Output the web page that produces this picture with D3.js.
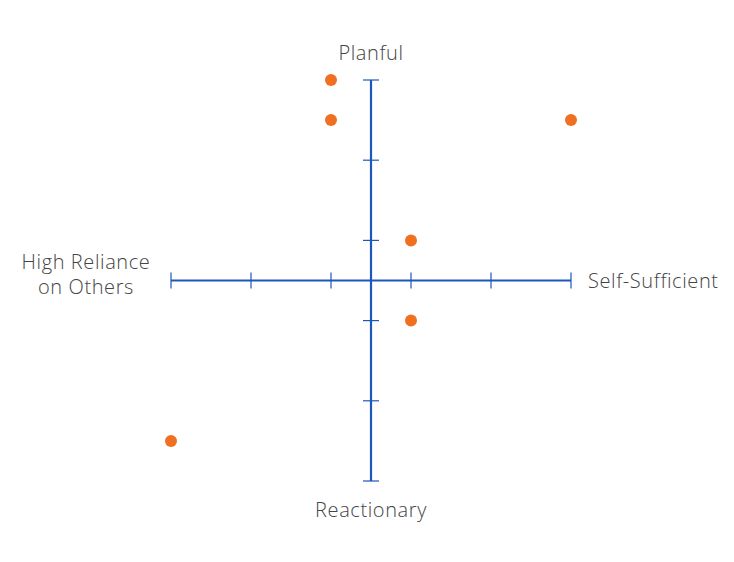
<!DOCTYPE html>
<html>
<head>
<meta charset="utf-8">
<script src="https://cdn.jsdelivr.net/npm/d3@7"></script>
<style>
  body { margin: 0; background: #fff; }
  text { font-family: "Open Sans", Lato, sans-serif; font-weight: 300; fill: #444; letter-spacing: 0.6px; }
</style>
</head>
<body>
<div id="chart"></div>
<script>
// quadrant values
const xValues = [-1, -1, 5, 1, 1, -5];
const yValues = [5, 4, 4, 1, -1, -4];
const tickValues = [-5, -3, -1, 1, 3, 5];

const width = 734, height = 562;

const svg = d3.select("#chart").append("svg")
    .attr("width", width)
    .attr("height", height);

const x = d3.scaleLinear().domain([-5, 5]).range([171, 571]);
const y = d3.scaleLinear().domain([-5, 5]).range([481, 80]);

const axisColor = "#1c58bb";

// horizontal axis
svg.append("line")
    .attr("x1", x(-5)).attr("x2", x(5))
    .attr("y1", y(0)).attr("y2", y(0))
    .attr("stroke", axisColor).attr("stroke-width", 2.2);

svg.selectAll(".xtick").data(tickValues).enter().append("line")
    .attr("class", "xtick")
    .attr("x1", d => x(d)).attr("x2", d => x(d))
    .attr("y1", y(0) - 8).attr("y2", y(0) + 8)
    .attr("stroke", axisColor).attr("stroke-width", 1.2);

// vertical axis
svg.append("line")
    .attr("x1", x(0)).attr("x2", x(0))
    .attr("y1", y(5)).attr("y2", y(-5))
    .attr("stroke", axisColor).attr("stroke-width", 2.2);

svg.selectAll(".ytick").data(tickValues).enter().append("line")
    .attr("class", "ytick")
    .attr("x1", x(0) - 8).attr("x2", x(0) + 8)
    .attr("y1", d => y(d)).attr("y2", d => y(d))
    .attr("stroke", axisColor).attr("stroke-width", 1.2);

// points
svg.selectAll(".dot").data(xValues).enter().append("circle")
    .attr("class", "dot")
    .attr("cx", d => x(d))
    .attr("cy", (d, i) => y(yValues[i]))
    .attr("r", 6)
    .attr("fill", "#f07022");

// quadrant labels
svg.append("text").attr("x", 371).attr("y", 60)
    .attr("text-anchor", "middle").attr("font-size", 20).text("Planful");
svg.append("text").attr("x", 371).attr("y", 517)
    .attr("text-anchor", "middle").attr("font-size", 20).text("Reactionary");
svg.append("text").attr("x", 588).attr("y", 288)
    .attr("text-anchor", "start").attr("font-size", 20).text("Self-Sufficient");
svg.append("text").attr("x", 86).attr("y", 269)
    .attr("text-anchor", "middle").attr("font-size", 20).text("High Reliance");
svg.append("text").attr("x", 86).attr("y", 294)
    .attr("text-anchor", "middle").attr("font-size", 20).text("on Others");
</script>
</body>
</html>
